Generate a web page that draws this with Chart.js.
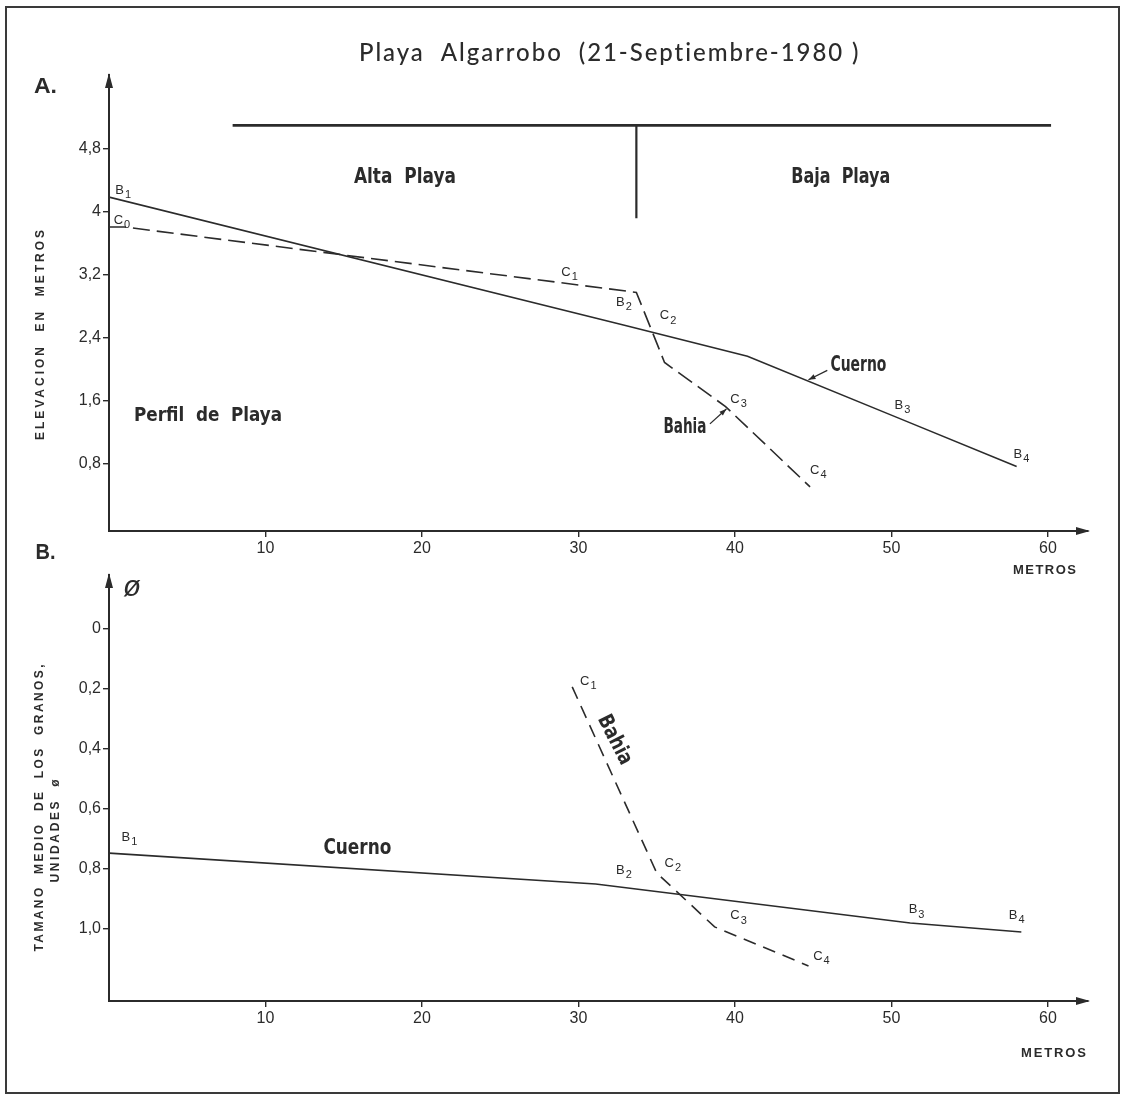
<!DOCTYPE html>
<html><head><meta charset="utf-8">
<script src="https://cdn.jsdelivr.net/npm/chart.js@4.4.1/dist/chart.umd.min.js"></script>
<style>
html,body{margin:0;padding:0;background:#fff;}
#wrap{position:relative;width:1125px;height:1096px;overflow:hidden;background:#fff;}
#frame{position:absolute;left:5px;top:6px;width:1111px;height:1084px;border:2px solid #3a3a3a;}
canvas{position:absolute;left:0;}
#cA{top:0;} #cB{top:535px;}
</style></head><body>
<div id="wrap"><div id="frame"></div>
<canvas id="cA" width="1125" height="600"></canvas>
<canvas id="cB" width="1125" height="561"></canvas>
</div>
<script>
// ---------- data ----------
const xTicks = [10, 20, 30, 40, 50, 60];
const xTickLabels = ['10', '20', '30', '40', '50', '60'];
const yTicksA = [0.8, 1.6, 2.4, 3.2, 4, 4.8];
const yTickLabelsA = ['0,8', '1,6', '2,4', '3,2', '4', '4,8'];
const yTicksB = [0, 0.2, 0.4, 0.6, 0.8, 1.0];
const yTickLabelsB = ['0', '0,2', '0,4', '0,6', '0,8', '1,0'];

// A. Perfil de playa (elevación, m)
const cuernoA_x = [0, 33, 40.8, 50.5, 58.0];
const cuernoA_y = [4.18, 2.55, 2.16, 1.37, 0.76];
const bahiaA_x = [0, 1.0, 33.7, 35.5, 39.4, 44.8];
const bahiaA_y = [3.80, 3.80, 2.97, 2.08, 1.52, 0.50];
const zonaX = [7.9, 60.2];
const zonaY = [5.09, 5.09];
const limiteX = [33.7, 33.7];
const limiteY = [5.09, 3.91];
const estacionesA = ['B1', 'C0', 'C1', 'B2', 'C2', 'C3', 'B3', 'B4', 'C4'];
const estacionesA_x = [0.4, 0.3, 28.9, 32.4, 35.2, 39.7, 50.2, 57.8, 44.8];
const estacionesA_y = [4.24, 3.86, 3.20, 2.82, 2.65, 1.59, 1.51, 0.89, 0.69];

// B. Tamaño medio de los granos (phi)
const cuernoB_x = [0, 31.1, 51.2, 58.3];
const cuernoB_y = [0.747, 0.85, 0.98, 1.01];
const bahiaB_x = [29.6, 35.0, 38.7, 44.7];
const bahiaB_y = [0.193, 0.813, 0.993, 1.123];
const estacionesB = ['B1', 'C1', 'B2', 'C2', 'C3', 'B3', 'B4', 'C4'];
const estacionesB_x = [0.8, 30.1, 32.4, 35.5, 39.7, 51.1, 57.5, 45.0];
const estacionesB_y = [0.70, 0.18, 0.81, 0.787, 0.963, 0.943, 0.96, 1.097];

// ---------- helpers ----------
const INK = '#2b2b2b';
const SANS = '"Liberation Sans", Arial, Helvetica, sans-serif';
const NARROW = '"Liberation Sans Narrow", "DejaVu Sans Condensed", "Liberation Sans", sans-serif';
const zip = (xs, ys) => xs.map((x, i) => ({x, y: ys[i]}));

// draw text centred at (cx,cy) fitted to width w; mode 'space' = letter spacing, 'scale' = horizontal scale
function fitText(ctx, text, cx, cy, w, font, mode, rot) {
  ctx.save();
  ctx.font = font;
  ctx.letterSpacing = '0px';
  ctx.fillStyle = INK;
  ctx.textBaseline = 'middle';
  ctx.textAlign = 'left';
  const m = ctx.measureText(text).width;
  ctx.translate(cx, cy);
  if (rot) ctx.rotate(rot);
  if (mode === 'space') {
    const n = [...text].length;
    const ls = n > 1 ? (w - m) / (n - 1) : 0;
    ctx.letterSpacing = ls + 'px';
    ctx.fillText(text, -w / 2, 0);
  } else {
    const s = w / m;
    ctx.scale(s, 1);
    ctx.fillText(text, -m / 2, 0);
  }
  ctx.restore();
}
function station(ctx, txt, x, y) {
  ctx.save();
  ctx.fillStyle = INK;
  ctx.textBaseline = 'middle';
  ctx.textAlign = 'left';
  ctx.font = '13px ' + SANS;
  ctx.fillText(txt[0], x, y - 2);
  const w = ctx.measureText(txt[0]).width;
  ctx.font = '11px ' + SANS;
  ctx.fillText(txt.slice(1), x + w + 1, y + 3);
  ctx.restore();
}
function leader(ctx, x1, y1, x2, y2) {
  ctx.save();
  ctx.strokeStyle = INK; ctx.fillStyle = INK; ctx.lineWidth = 1.3;
  ctx.beginPath(); ctx.moveTo(x1, y1); ctx.lineTo(x2, y2); ctx.stroke();
  const a = Math.atan2(y2 - y1, x2 - x1), L = 7, W = 2.6;
  ctx.beginPath();
  ctx.moveTo(x2, y2);
  ctx.lineTo(x2 - L * Math.cos(a) + W * Math.sin(a), y2 - L * Math.sin(a) - W * Math.cos(a));
  ctx.lineTo(x2 - L * Math.cos(a) - W * Math.sin(a), y2 - L * Math.sin(a) + W * Math.cos(a));
  ctx.closePath(); ctx.fill();
  ctx.restore();
}
function axisArrows(chart) {
  const {ctx, chartArea: a} = chart;
  ctx.save();
  ctx.fillStyle = INK;
  ctx.beginPath();
  ctx.moveTo(a.left, a.top - 2); ctx.lineTo(a.left - 4, a.top + 13); ctx.lineTo(a.left + 4, a.top + 13);
  ctx.closePath(); ctx.fill();
  ctx.beginPath();
  ctx.moveTo(a.right + 2, a.bottom); ctx.lineTo(a.right - 12, a.bottom - 4); ctx.lineTo(a.right - 12, a.bottom + 4);
  ctx.closePath(); ctx.fill();
  ctx.restore();
}

function lineDs(label, data, width, dash) {
  return {label, data, showLine: true, borderColor: INK, backgroundColor: INK,
          borderWidth: width, borderDash: dash || [], pointRadius: 0, pointHoverRadius: 0,
          fill: false, tension: 0};
}
function scalesFor(yMin, yMax, yTicks, yLabels, xHeight, reverse) {
  return {
    x: {
      type: 'linear', min: 0, max: 62.56,
      afterBuildTicks: s => { s.ticks = xTicks.map(v => ({value: v})); },
      afterFit: s => { s.height = xHeight; },
      ticks: {callback: v => xTickLabels[xTicks.indexOf(v)], font: {size: 16, family: SANS},
              color: INK, padding: 2, maxRotation: 0, autoSkip: false},
      grid: {drawOnChartArea: false, drawTicks: true, tickLength: 6, color: INK, lineWidth: 1.4},
      border: {color: INK, width: 2}
    },
    y: {
      type: 'linear', min: yMin, max: yMax, reverse: !!reverse,
      afterBuildTicks: s => { s.ticks = yTicks.map(v => ({value: v})); },
      afterFit: s => { s.width = 109; },
      ticks: {callback: v => yLabels[yTicks.indexOf(v)], font: {size: 16, family: SANS},
              color: INK, padding: 2, autoSkip: false},
      grid: {drawOnChartArea: false, drawTicks: true, tickLength: 6, color: INK, lineWidth: 1.4},
      border: {color: INK, width: 2}
    }
  };
}

// ---------- Panel A ----------
const decorA = {
  id: 'decorA',
  afterDatasetsDraw(chart) {
    const ctx = chart.ctx, X = chart.scales.x, Y = chart.scales.y;
    const px = v => X.getPixelForValue(v), py = v => Y.getPixelForValue(v);
    axisArrows(chart);
    fitText(ctx, 'Playa  Algarrobo  (21-Septiembre-1980 )', 609, 53, 500, '500 24px Lato, "Open Sans", sans-serif', 'space');
    fitText(ctx, 'A.', 45.5, 87, 23, 'bold 22px ' + SANS, 'scale');
    fitText(ctx, 'B.', 45.5, 553, 20, 'bold 22px ' + SANS, 'scale');
    fitText(ctx, 'ELEVACION  EN  METROS', 41, 335, 210, 'bold 12px ' + SANS, 'space', -Math.PI / 2);
    fitText(ctx, 'METROS', 1044.5, 570, 63, 'bold 13px ' + SANS, 'space');
    fitText(ctx, 'Alta  Playa', px(15.65) + 51, py(4.43), 102, 'bold 21px ' + NARROW, 'scale');
    fitText(ctx, 'Baja  Playa', px(43.6) + 49.5, py(4.43), 99, 'bold 21px ' + NARROW, 'scale');
    fitText(ctx, 'Perfil  de  Playa', px(1.6) + 74, py(1.40), 148, 'bold 20px ' + NARROW, 'scale');
    fitText(ctx, 'Cuerno', px(46.1) + 28, py(2.04), 56, 'bold 22px ' + NARROW, 'scale');
    leader(ctx, px(45.9), py(1.98), px(44.7), py(1.86));
    fitText(ctx, 'Bahia', px(36.8), py(1.26), 43, 'bold 22px ' + NARROW, 'scale');
    leader(ctx, px(38.4), py(1.30), px(39.45), py(1.49));
    estacionesA.forEach((t, i) => station(ctx, t, px(estacionesA_x[i]), py(estacionesA_y[i])));
  }
};
new Chart(document.getElementById('cA'), {
  type: 'scatter',
  data: {datasets: [
    lineDs('Cuerno', zip(cuernoA_x, cuernoA_y), 1.6),
    lineDs('Bahia', zip(bahiaA_x, bahiaA_y), 1.6, [17, 7]),
    lineDs('Alta / Baja Playa', zip(zonaX, zonaY), 2.6),
    lineDs('Límite', zip(limiteX, limiteY), 2.2)
  ]},
  options: {
    responsive: false, animation: false, events: [],
    layout: {padding: {left: 0, right: 37, top: 75, bottom: 0}},
    plugins: {legend: {display: false}, tooltip: {enabled: false}},
    scales: scalesFor(-0.06, 5.73, yTicksA, yTickLabelsA, 69, false)
  },
  plugins: [decorA]
});

// ---------- Panel B ----------
const decorB = {
  id: 'decorB',
  afterDatasetsDraw(chart) {
    const ctx = chart.ctx, X = chart.scales.x, Y = chart.scales.y;
    const px = v => X.getPixelForValue(v), py = v => Y.getPixelForValue(v);
    const T = 535;
    axisArrows(chart);
    fitText(ctx, 'ø', 132, 588 - T, 18, 'italic 30px ' + SANS, 'scale');
    fitText(ctx, 'TAMANO  MEDIO  DE  LOS  GRANOS,', 40, 808 - T, 287, 'bold 12px ' + SANS, 'space', -Math.PI / 2);
    fitText(ctx, 'UNIDADES  ø', 56, 831 - T, 103, 'bold 12px ' + SANS, 'space', -Math.PI / 2);
    fitText(ctx, 'METROS', 1053.5, 1053 - T, 65, 'bold 13px ' + SANS, 'space');
    fitText(ctx, 'Cuerno', px(13.7) + 34, py(0.73), 68, 'bold 22px ' + NARROW, 'scale');
    fitText(ctx, 'Bahia', px(32.3), py(0.37), 53, 'bold 21px ' + NARROW, 'scale', 63 * Math.PI / 180);
    estacionesB.forEach((t, i) => station(ctx, t, px(estacionesB_x[i]), py(estacionesB_y[i])));
  }
};
new Chart(document.getElementById('cB'), {
  type: 'scatter',
  data: {datasets: [
    lineDs('Cuerno', zip(cuernoB_x, cuernoB_y), 1.6),
    lineDs('Bahia', zip(bahiaB_x, bahiaB_y), 1.6, [13, 8])
  ]},
  options: {
    responsive: false, animation: false, events: [],
    layout: {padding: {left: 0, right: 37, top: 40, bottom: 0}},
    plugins: {legend: {display: false}, tooltip: {enabled: false}},
    scales: scalesFor(-0.18, 1.24, yTicksB, yTickLabelsB, 95, true)
  },
  plugins: [decorB]
});
</script>
</body></html>
